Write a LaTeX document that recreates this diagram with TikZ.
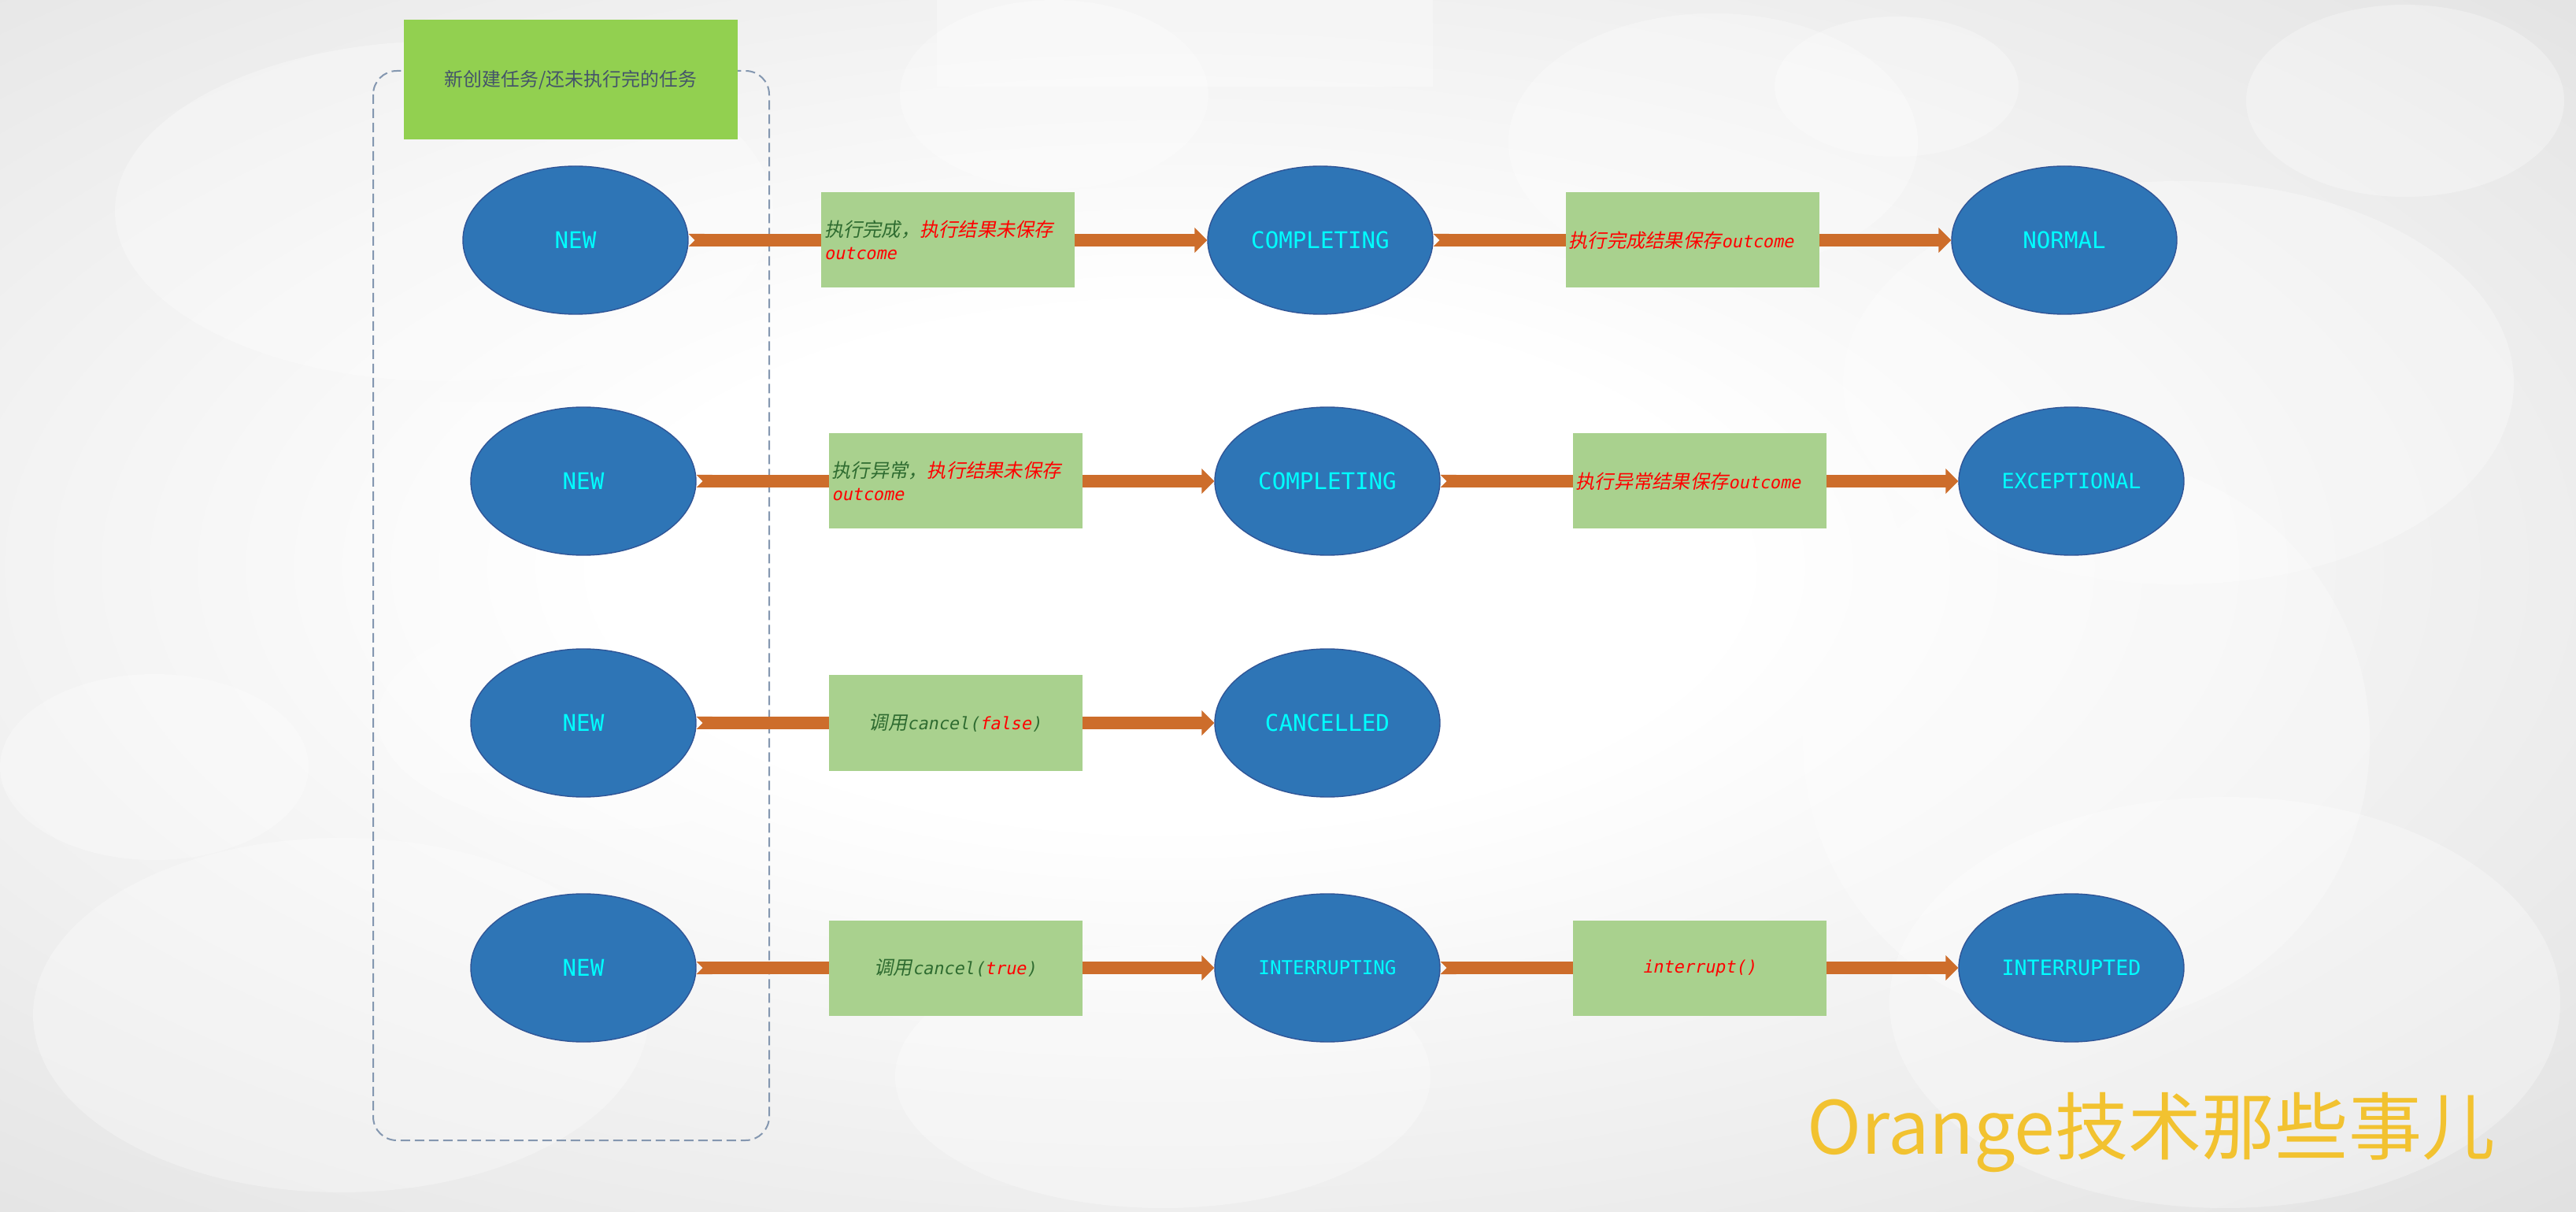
\documentclass[tikz,border=0pt]{standalone}
\usepackage{fontspec}
\usetikzlibrary{shapes.geometric,arrows.meta}
\newfontfamily\cjk{Noto Sans CJK SC}
\newfontfamily\cjkit{Noto Sans CJK SC}[FakeSlant=0.2]
\newfontfamily\monoup{DejaVu Sans Mono}
\newfontfamily\monoit{DejaVu Sans Mono}[FakeSlant=0.2]

\definecolor{bgdark}{HTML}{C6C6C6}
\definecolor{statefill}{HTML}{2E75B6}
\definecolor{stateline}{HTML}{2F5597}
\definecolor{statetext}{HTML}{00FFFF}
\definecolor{boxfill}{HTML}{A9D18E}
\definecolor{headfill}{HTML}{92D050}
\definecolor{headtext}{HTML}{44546A}
\definecolor{flowc}{HTML}{CD6D2B}
\definecolor{grpline}{HTML}{8497B0}
\definecolor{lblgreen}{HTML}{2E6B30}
\definecolor{lblred}{HTML}{FF0000}
\definecolor{markc}{HTML}{F2C230}

\newcommand{\zhg}[1]{{\color{lblgreen}#1}}
\newcommand{\zhr}[1]{{\color{lblred}#1}}
\newcommand{\eng}[1]{{\monoit\fontsize{6.2}{8.3}\selectfont\color{lblgreen}#1}}
\newcommand{\enr}[1]{{\monoit\fontsize{6.2}{8.3}\selectfont\color{lblred}#1}}

\pgfdeclareradialshading{bgglow}{\pgfpoint{0bp}{0bp}}{color(0bp)=(white); color(10bp)=(white); color(32bp)=(bgdark!45!white); color(50bp)=(bgdark!90!white); color(72bp)=(bgdark)}

\begin{document}
\begin{tikzpicture}[
  state/.style={ellipse, fill=statefill, draw=stateline, line width=0.4pt,
    minimum width=2.86cm, minimum height=1.88cm, inner sep=0pt,
    text=statetext, font=\monoup\fontsize{8.3}{10}\selectfont},
  smallstate/.style={font=\monoup\fontsize{7.6}{9}\selectfont},
  tinystate/.style={font=\monoup\fontsize{6.9}{8}\selectfont},
  lbl/.style={rectangle, fill=boxfill, minimum width=3.22cm, minimum height=1.21cm,
    text width=3.14cm, inner xsep=0.04cm, inner ysep=0pt, align=center,
    font=\cjkit\fontsize{6.9}{8.3}\selectfont},
  headbox/.style={rectangle, fill=headfill, minimum width=4.24cm, minimum height=1.52cm,
    inner sep=0pt, text=headtext, font=\cjk\fontsize{6.8}{8}\selectfont},
  flow/.style={draw=flowc, line width=0.16cm,
    {Triangle Cap[reversed]}-{Triangle[length=0.16cm,width=0.31cm]}},
  deco/.style={fill=white, opacity=0.3}
]
\useasboundingbox (0,0) rectangle (32.72,-15.39);
% background
\begin{scope}
\clip (0,0) rectangle (32.72,-15.39);
\shade[shading=bgglow] (-3,1) rectangle (32.72,-15.39);
\fill[deco] (5.59,-5.11) rectangle (10.43,-9.81);
\fill[deco] (11.9,0) rectangle (18.2,-1.1);
\fill[deco] (5.64,-2.68) ellipse[x radius=4.18, y radius=2.16];
\fill[deco] (13.39,-1.2) ellipse[x radius=1.96, y radius=1.2];
\fill[deco] (21.76,-1.81) ellipse[x radius=2.6, y radius=1.64];
\fill[deco] (24.09,-1.1) ellipse[x radius=1.55, y radius=0.89];
\fill[deco] (30.55,-1.28) ellipse[x radius=2.02, y radius=1.22];
\fill[deco] (27.67,-4.86) ellipse[x radius=4.26, y radius=2.56];
\fill[deco] (26.5,-9.4) ellipse[x radius=3.6, y radius=3.6];
\fill[deco] (1.96,-9.74) ellipse[x radius=1.96, y radius=1.18];
\fill[deco] (4.33,-12.89) ellipse[x radius=3.91, y radius=2.25];
\fill[deco] (28.26,-12.73) ellipse[x radius=4.26, y radius=2.61];
\fill[deco] (7.67,-9.13) ellipse[x radius=2.87, y radius=1.41];
\fill[deco] (14.77,-13.67) ellipse[x radius=3.4, y radius=1.67];
\end{scope}

% group frame
\draw[grpline, line width=0.02cm, dash pattern=on 0.12cm off 0.06cm, rounded corners=0.3cm]
  (4.74,-0.90) rectangle (9.77,-14.48);
\node[headbox] (head) at (7.25,-1.01) {新创建任务/还未执行完的任务};

% states
\node[state] (new1) at (7.31,-3.05) {NEW};
\node[state] (comp1) at (16.77,-3.05) {COMPLETING};
\node[state] (norm) at (26.22,-3.05) {NORMAL};
\node[state] (new2) at (7.41,-6.11) {NEW};
\node[state] (comp2) at (16.86,-6.11) {COMPLETING};
\node[state,smallstate] (excp) at (26.31,-6.11) {EXCEPTIONAL};
\node[state] (new3) at (7.41,-9.18) {NEW};
\node[state] (canc) at (16.86,-9.18) {CANCELLED};
\node[state] (new4) at (7.41,-12.29) {NEW};
\node[state,tinystate] (intg) at (16.86,-12.29) {INTERRUPTING};
\node[state,smallstate] (intd) at (26.31,-12.29) {INTERRUPTED};

% transitions
\draw[flow] (new1) -- node[lbl,align=left] (lbl11) {\zhg{执行完成，}\zhr{执行结果未保存}\\\enr{outcome}} (comp1);
\draw[flow] (comp1) -- node[lbl,align=left] (lbl12) {\zhr{执行完成结果保存}\enr{outcome}} (norm);
\draw[flow] (new2) -- node[lbl,align=left] (lbl21) {\zhg{执行异常，}\zhr{执行结果未保存}\\\enr{outcome}} (comp2);
\draw[flow] (comp2) -- node[lbl,align=left] (lbl22) {\zhr{执行异常结果保存}\enr{outcome}} (excp);
\draw[flow] (new3) -- node[lbl] (lbl31) {\zhg{调用}\eng{cancel(}\enr{false}\eng{)}} (canc);
\draw[flow] (new4) -- node[lbl] (lbl41) {\zhg{调用}\eng{cancel(}\enr{true}\eng{)}} (intg);
\draw[flow] (intg) -- node[lbl] (lbl42) {\enr{interrupt()}} (intd);

\node[anchor=base west, inner sep=0pt, text=markc, font=\cjk\fontsize{26.5}{30}\selectfont]
  (mark) at (22.95,-14.65) {Orange技术那些事儿};
\end{tikzpicture}
\end{document}
